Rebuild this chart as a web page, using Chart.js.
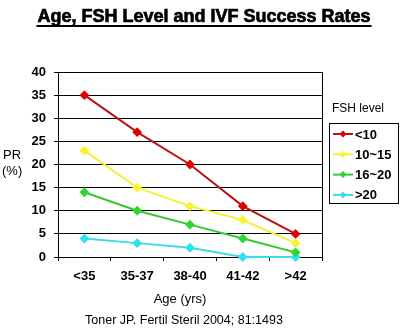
<!DOCTYPE html>
<html>
<head>
<meta charset="utf-8">
<script src="https://cdn.jsdelivr.net/npm/chart.js@4/dist/chart.umd.min.js"></script>
<style>
  html, body { margin: 0; padding: 0; background: #fff; }
  #wrap { width: 402px; height: 331px; }
</style>
</head>
<body>
<div id="wrap"><canvas id="ivf" width="402" height="331"></canvas></div>
<script>
const ageGroups = ["<35", "35-37", "38-40", "41-42", ">42"];
const fshLabels = ["<10", "10~15", "16~20", ">20"];
const fshUnder10 = [35, 27, 20, 11, 5];
const fsh10to15 = [23, 15, 11, 8, 3];
const fsh16to20 = [14, 10, 7, 4, 1];
const fshOver20 = [4, 3, 2, 0, 0];
const yTicks = [0, 5, 10, 15, 20, 25, 30, 35, 40];

const lineColors = ["#B81414", "#F2F23A", "#34C834", "#3CDCE6"];
const markColors = ["#E00000", "#F5F530", "#2ED62E", "#30E0F0"];

const series = [fshUnder10, fsh10to15, fsh16to20, fshOver20];

const FONT = "'Liberation Sans', Arial, sans-serif";

// titles, axis captions, right border and the boxed legend
const decorations = {
  id: "decorations",
  afterDraw(chart) {
    const ctx = chart.ctx;
    const area = chart.chartArea;
    ctx.save();

    // plot frame on the right side
    ctx.strokeStyle = "#000";
    ctx.lineWidth = 1;
    ctx.beginPath();
    ctx.moveTo(Math.round(area.right) + 0.5, area.top);
    ctx.lineTo(Math.round(area.right) + 0.5, area.bottom);
    ctx.stroke();

    // main title, heavy and underlined
    ctx.fillStyle = "#000";
    ctx.strokeStyle = "#000";
    ctx.lineWidth = 0.7;
    ctx.font = "bold 18px " + FONT;
    ctx.textAlign = "center";
    ctx.textBaseline = "alphabetic";
    const title = "Age, FSH Level and IVF Success Rates";
    ctx.fillText(title, 204, 22);
    ctx.strokeText(title, 204, 22);
    const tw = ctx.measureText(title).width;
    ctx.fillRect(204 - tw / 2 - 1, 25, tw + 2, 2);

    // y axis caption
    ctx.font = "13px " + FONT;
    ctx.textAlign = "left";
    ctx.textBaseline = "middle";
    ctx.fillText("PR", 3, 155);
    ctx.fillText("(%)", 2, 171);

    // x axis caption and source line
    ctx.textAlign = "center";
    ctx.fillText("Age (yrs)", 180, 299);
    ctx.font = "12.5px " + FONT;
    ctx.fillText("Toner JP. Fertil Steril 2004; 81:1493", 184, 321);

    // legend
    ctx.font = "12px " + FONT;
    ctx.textAlign = "left";
    ctx.fillText("FSH level", 332, 109);
    ctx.lineWidth = 1;
    ctx.strokeRect(329.5, 123.5, 69, 80);
    ctx.font = "bold 13px " + FONT;
    chart.data.datasets.forEach((ds, i) => {
      const y = 134 + i * 20.3;
      ctx.strokeStyle = ds.borderColor;
      ctx.lineWidth = 2;
      ctx.beginPath();
      ctx.moveTo(333, y);
      ctx.lineTo(353, y);
      ctx.stroke();
      ctx.fillStyle = ds.pointBackgroundColor;
      ctx.beginPath();
      ctx.moveTo(343, y - 3.5);
      ctx.lineTo(346.5, y);
      ctx.lineTo(343, y + 3.5);
      ctx.lineTo(339.5, y);
      ctx.closePath();
      ctx.fill();
      ctx.fillStyle = "#000";
      ctx.fillText(ds.label, 355, y + 1);
    });

    ctx.restore();
  }
};

new Chart(document.getElementById("ivf"), {
  type: "line",
  data: {
    labels: ageGroups,
    datasets: series.map((values, i) => ({
      label: fshLabels[i],
      data: values,
      borderColor: lineColors[i],
      backgroundColor: markColors[i],
      pointBackgroundColor: markColors[i],
      pointBorderColor: markColors[i],
      pointStyle: "rectRot",
      pointRadius: 3.5,
      borderWidth: 2,
      tension: 0,
      clip: false,
      order: i
    }))
  },
  options: {
    responsive: false,
    animation: false,
    devicePixelRatio: 1,
    layout: { padding: { left: 0, top: 72, right: 80, bottom: 0 } },
    plugins: {
      legend: { display: false },
      tooltip: { enabled: false },
      title: { display: false }
    },
    scales: {
      x: {
        offset: true,
        afterFit: (scale) => { scale.height = 74; },
        grid: {
          offset: true,
          drawOnChartArea: false,
          drawTicks: true,
          tickLength: 4,
          color: "#000"
        },
        border: { display: true, color: "#000", width: 1 },
        ticks: {
          color: "#000",
          padding: 8,
          font: { family: FONT, size: 13, weight: "bold" }
        }
      },
      y: {
        min: 0,
        max: 40,
        afterFit: (scale) => { scale.width = 58; },
        afterBuildTicks: (scale) => { scale.ticks = yTicks.map(v => ({ value: v })); },
        grid: {
          color: "#000",
          drawTicks: true,
          tickLength: 4
        },
        border: { display: true, color: "#000", width: 1 },
        ticks: {
          color: "#000",
          padding: 8,
          font: { family: FONT, size: 13, weight: "bold" }
        }
      }
    }
  },
  plugins: [decorations]
});
</script>
</body>
</html>
